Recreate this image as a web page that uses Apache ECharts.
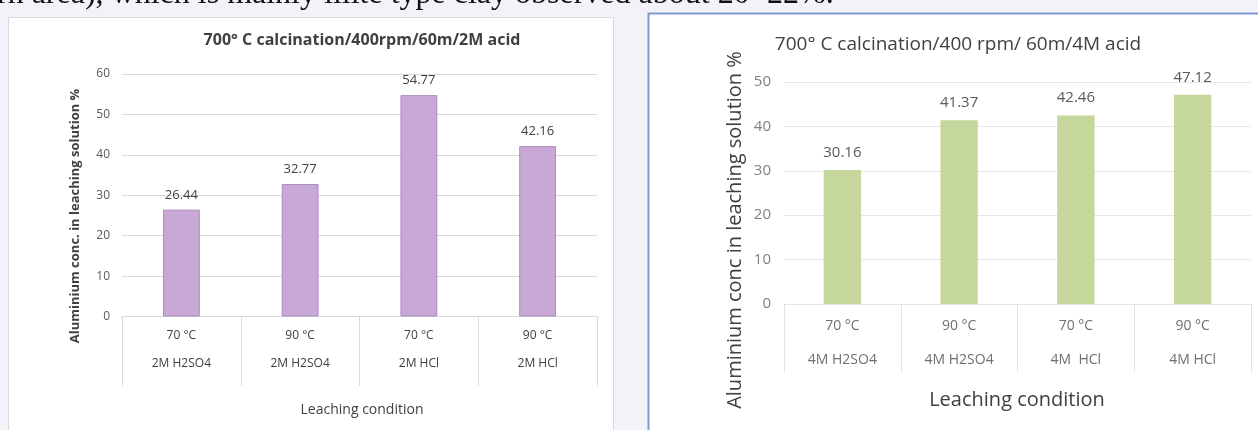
<!DOCTYPE html>
<html>
<head>
<meta charset="utf-8">
<script src="https://cdn.jsdelivr.net/npm/echarts@6/dist/echarts.min.js"></script>
<style>
  html, body { margin: 0; padding: 0; background: #F1F3F8; }
  #chart { width: 1258px; height: 430px; }
</style>
</head>
<body>
<div id="chart"></div>
<script>
// ---- data ----
const leftTitle = '700° C calcination/400rpm/60m/2M acid';
const rightTitle = '700° C calcination/400 rpm/ 60m/4M acid';
const leftTemps = ['70 °C', '90 °C', '70 °C', '90 °C'];
const leftAcids = ['2M H2SO4', '2M H2SO4', '2M HCl', '2M HCl'];
const leftValues = [26.44, 32.77, 54.77, 42.16];
const rightTemps = ['70 °C', '90 °C', '70 °C', '90 °C'];
const rightAcids = ['4M H2SO4', '4M H2SO4', '4M  HCl', '4M HCl'];
const rightValues = [30.16, 41.37, 42.46, 47.12];
const leftYTicks = { min: 0, max: 60, interval: 10 };
const rightYTicks = { min: 0, max: 50, interval: 10 };
const leftYName = 'Aluminium conc. in leaching solution %';
const rightYName = 'Aluminium conc in leaching solution %';
const xName = 'Leaching condition';
const topText = 'rn area), which is mainly illite type clay observed about 20~22%.';

const FONT = '"Open Sans", "Noto Sans", sans-serif';

const leftCats = leftTemps.map((t, i) => t + '\n' + leftAcids[i]);
const rightCats = rightTemps.map((t, i) => t + '\n' + rightAcids[i]);

const chart = echarts.init(document.getElementById('chart'), null, { renderer: 'canvas' });

function catLabel(lh, fs, color) {
  return {
    margin: 5,
    interval: 0,
    formatter: v => { const p = v.split('\n'); return '{a|' + p[0] + '}\n{b|' + p[1] + '}'; },
    rich: {
      a: { fontSize: fs, lineHeight: lh, color: color, fontFamily: FONT },
      b: { fontSize: fs, lineHeight: lh, color: color, fontFamily: FONT }
    }
  };
}

chart.setOption({
  animation: false,
  textStyle: { fontFamily: FONT },
  graphic: [
    // left panel
    { type: 'rect', z: -100, shape: { x: 8.5, y: 17.5, width: 605, height: 420 },
      style: { fill: '#ffffff', stroke: '#D9D9D9', lineWidth: 1 } },
    // right panel
    { type: 'rect', z: -100, shape: { x: 648.5, y: 13.5, width: 620, height: 430 },
      style: { fill: '#ffffff', stroke: '#8497D6', lineWidth: 2 } },
    // cut-off sentence above
    { type: 'text', z: 10, left: -3, top: -21,
      style: { text: topText, font: '32px "Liberation Serif", serif', fill: '#111111' } },
    // titles
    { type: 'text', style: { text: leftTitle, x: 362, y: 40, align: 'center', verticalAlign: 'middle',
        font: 'bold 16px ' + FONT, fill: '#404040' } },
    { type: 'text', style: { text: rightTitle, x: 958, y: 45, align: 'center', verticalAlign: 'middle',
        font: '19px ' + FONT, fill: '#404040' } },
    // y names
    { type: 'text', x: 75, y: 216, rotation: Math.PI / 2,
      style: { text: leftYName, x: 0, y: 0, align: 'center', verticalAlign: 'middle',
        font: 'bold 13px ' + FONT, fill: '#404040' } },
    { type: 'text', x: 735, y: 230, rotation: Math.PI / 2,
      style: { text: rightYName, x: 0, y: 0, align: 'center', verticalAlign: 'middle',
        font: '20px ' + FONT, fill: '#404040' } },
    // x names
    { type: 'text', style: { text: xName, x: 362, y: 410, align: 'center', verticalAlign: 'middle',
        font: '14px ' + FONT, fill: '#404040' } },
    { type: 'text', style: { text: xName, x: 1017, y: 400, align: 'center', verticalAlign: 'middle',
        font: '20px ' + FONT, fill: '#404040' } }
  ],
  grid: [
    { left: 122, top: 74, width: 475, height: 242.5, containLabel: false },
    { left: 784, top: 82, width: 467, height: 222, containLabel: false }
  ],
  xAxis: [
    { type: 'category', gridIndex: 0, data: leftCats,
      axisLine: { lineStyle: { color: '#D9D9D9' } },
      axisTick: { show: true, length: 69, lineStyle: { color: '#D9D9D9' } },
      axisLabel: catLabel(28, 12, '#404040') },
    { type: 'category', gridIndex: 1, data: rightCats,
      axisLine: { lineStyle: { color: '#E3E3E3' } },
      axisTick: { show: true, length: 68, lineStyle: { color: '#E3E3E3' } },
      axisLabel: catLabel(34, 14, '#707070') }
  ],
  yAxis: [
    { type: 'value', gridIndex: 0, min: leftYTicks.min, max: leftYTicks.max, interval: leftYTicks.interval,
      axisLine: { show: false }, axisTick: { show: false },
      splitLine: { lineStyle: { color: '#D9D9D9' } },
      axisLabel: { margin: 12, fontSize: 12, color: '#595959' } },
    { type: 'value', gridIndex: 1, min: rightYTicks.min, max: rightYTicks.max, interval: rightYTicks.interval,
      axisLine: { show: false }, axisTick: { show: false },
      splitLine: { lineStyle: { color: '#E6E6E6' } },
      axisLabel: { margin: 13, fontSize: 15, color: '#808080' } }
  ],
  series: [
    { type: 'bar', xAxisIndex: 0, yAxisIndex: 0, data: leftValues, barWidth: '31%',
      itemStyle: { color: '#C8A8D4', borderColor: '#A98BBE', borderWidth: 1 },
      label: { show: true, position: 'top', distance: 8, fontSize: 13, color: '#404040',
        formatter: p => p.value.toFixed(2) } },
    { type: 'bar', xAxisIndex: 1, yAxisIndex: 1, data: rightValues, barWidth: '32%',
      itemStyle: { color: '#C5D79B' },
      label: { show: true, position: 'top', distance: 10, fontSize: 15, color: '#595959',
        formatter: p => p.value.toFixed(2) } }
  ]
});
</script>
</body>
</html>
